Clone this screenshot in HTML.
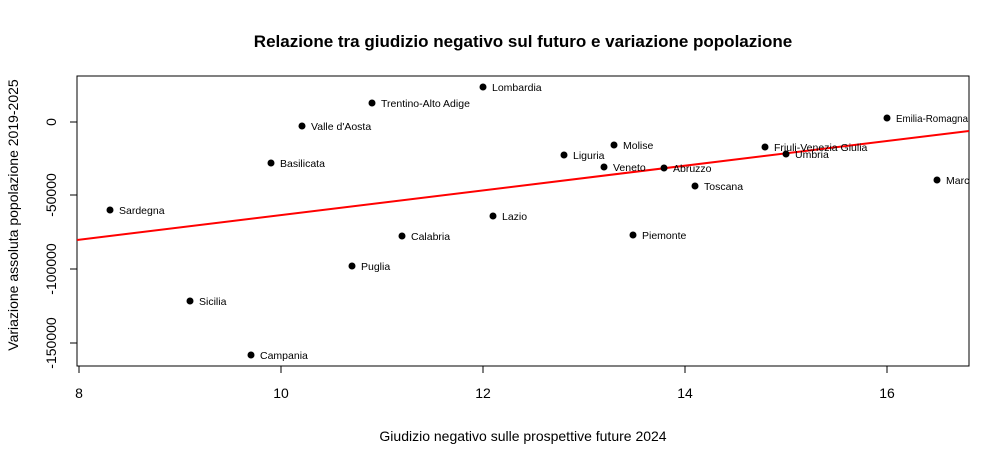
<!DOCTYPE html>
<html><head><meta charset="utf-8"><style>body{margin:0;background:#fff}</style></head><body>
<svg width="1004" height="456" xmlns="http://www.w3.org/2000/svg" font-family="Liberation Sans, Arial, sans-serif">
<defs><clipPath id="c"><rect x="77" y="76" width="892" height="290"/></clipPath></defs>
<text x="523" y="47" text-anchor="middle" font-size="17" font-weight="bold">Relazione tra giudizio negativo sul futuro e variazione popolazione</text>
<rect x="77" y="76" width="892" height="290" fill="none" stroke="#000" stroke-width="1"/>
<g stroke="#000">
<line x1="79" y1="366" x2="79" y2="373"/><line x1="281" y1="366" x2="281" y2="373"/><line x1="483" y1="366" x2="483" y2="373"/><line x1="685" y1="366" x2="685" y2="373"/><line x1="887" y1="366" x2="887" y2="373"/>
<line x1="70" y1="122" x2="77" y2="122"/><line x1="70" y1="195" x2="77" y2="195"/><line x1="70" y1="269" x2="77" y2="269"/><line x1="70" y1="343" x2="77" y2="343"/>
</g>
<g font-size="14" text-anchor="middle">
<text x="79" y="398">8</text><text x="281" y="398">10</text><text x="483" y="398">12</text><text x="685" y="398">14</text><text x="887" y="398">16</text>
<text transform="translate(56,122) rotate(-90)">0</text>
<text transform="translate(56,195) rotate(-90)">-50000</text>
<text transform="translate(56,269) rotate(-90)">-100000</text>
<text transform="translate(56,343) rotate(-90)">-150000</text>
<text x="523" y="441">Giudizio negativo sulle prospettive future 2024</text>
<text transform="translate(18,215) rotate(-90)">Variazione assoluta popolazione 2019-2025</text>
</g>
<g clip-path="url(#c)">
<line x1="77" y1="240" x2="969" y2="131" stroke="#f00" stroke-width="2"/>
<g font-size="10.5" fill="#000">
<circle cx="483" cy="87" r="3.5"/><text x="492" y="91">Lombardia</text>
<circle cx="372" cy="103" r="3.5"/><text x="381" y="107">Trentino-Alto Adige</text>
<circle cx="302" cy="126" r="3.5"/><text x="311" y="130">Valle d'Aosta</text>
<circle cx="271" cy="163" r="3.5"/><text x="280" y="167">Basilicata</text>
<circle cx="110" cy="210" r="3.5"/><text x="119" y="214">Sardegna</text>
<circle cx="190" cy="301" r="3.5"/><text x="199" y="305">Sicilia</text>
<circle cx="251" cy="355" r="3.5"/><text x="260" y="359">Campania</text>
<circle cx="352" cy="266" r="3.5"/><text x="361" y="270">Puglia</text>
<circle cx="402" cy="236" r="3.5"/><text x="411" y="240">Calabria</text>
<circle cx="493" cy="216" r="3.5"/><text x="502" y="220">Lazio</text>
<circle cx="564" cy="155" r="3.5"/><text x="573" y="159">Liguria</text>
<circle cx="614" cy="145" r="3.5"/><text x="623" y="149">Molise</text>
<circle cx="604" cy="167" r="3.5"/><text x="613" y="171">Veneto</text>
<circle cx="664" cy="168" r="3.5"/><text x="673" y="172">Abruzzo</text>
<circle cx="695" cy="186" r="3.5"/><text x="704" y="190">Toscana</text>
<circle cx="633" cy="235" r="3.5"/><text x="642" y="239">Piemonte</text>
<circle cx="765" cy="147" r="3.5"/><text x="774" y="151">Friuli-Venezia Giulia</text>
<circle cx="786" cy="154" r="3.5"/><text x="795" y="158">Umbria</text>
<circle cx="887" cy="118" r="3.5"/><text x="896" y="122" textLength="72" lengthAdjust="spacingAndGlyphs">Emilia-Romagna</text>
<circle cx="937" cy="180" r="3.5"/><text x="946" y="184">Marche</text>
</g>
</g>
</svg>
</body></html>
